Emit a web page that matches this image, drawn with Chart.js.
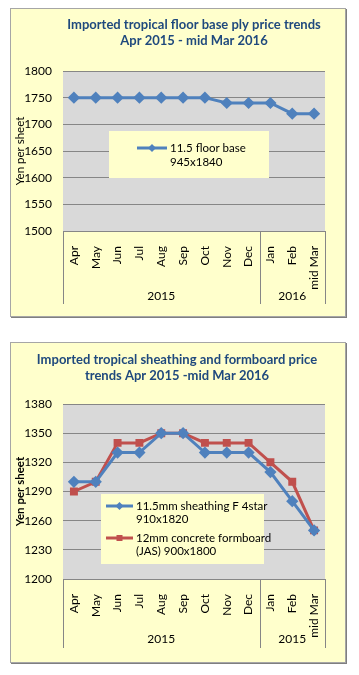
<!DOCTYPE html>
<html>
<head>
<meta charset="utf-8">
<script src="https://cdn.jsdelivr.net/npm/chart.js@4.4.1/dist/chart.umd.min.js"></script>
<style>
  body { margin: 0; background: #fff; font-family: Lato, "Open Sans", sans-serif; }
  .box { position: absolute; left: 10px; width: 334px; background: #ffffcc; border: 1px solid #a6a6a6; box-shadow: 1px 1px 0 #7f7f7f; }
  .box canvas { display: block; }
</style>
</head>
<body>
<div class="box" style="top:8px;height:307px"><canvas id="floor" width="334" height="307"></canvas></div>
<div class="box" style="top:342px;height:319px"><canvas id="sheathing" width="334" height="319"></canvas></div>
<script>
const months = ['Apr', 'May', 'Jun', 'Jul', 'Aug', 'Sep', 'Oct', 'Nov', 'Dec', 'Jan', 'Feb', 'mid Mar']
const floorYears = ['2015', '2016']
const sheathingYears = ['2015', '2015']
const yearSizes = [9, 3]

const floorBase = [1750, 1750, 1750, 1750, 1750, 1750, 1750, 1740, 1740, 1740, 1720, 1720]
const sheathing = [1300, 1300, 1330, 1330, 1350, 1350, 1330, 1330, 1330, 1310, 1280, 1250]
const formboard = [1290, 1300, 1340, 1340, 1350, 1350, 1340, 1340, 1340, 1320, 1300, 1250]

const blue = '#4f81bd'
const red = '#c0504d'
const grid = '#868686'
const fontName = 'Lato, "Open Sans", sans-serif'

// gray plot area, title, year row under the month labels, legend box inside the plot
const plotPlugin = {
  id: 'plotStuff',
  beforeDraw (chart) {
    const a = chart.chartArea
    const ctx = chart.ctx
    ctx.save()
    ctx.fillStyle = '#d9d9d9'
    ctx.fillRect(a.left, a.top, a.right - a.left, a.bottom - a.top)
    ctx.restore()
  },
  afterDraw (chart, args, opts) {
    const a = chart.chartArea
    const x = chart.scales.x
    const ctx = chart.ctx
    ctx.save()
    // title
    ctx.fillStyle = '#1f497d'
    ctx.font = 'bold 13px ' + fontName
    ctx.textAlign = 'center'
    ctx.textBaseline = 'middle'
    opts.title.forEach((line, i) => {
      ctx.fillText(line, opts.titleX, opts.titleY + i * 16)
    })
    // year groups
    ctx.strokeStyle = grid
    ctx.lineWidth = 1
    let start = 0
    const edges = [a.left]
    opts.years.forEach((yr, i) => {
      const end = start + yearSizes[i] - 1
      const right = end === months.length - 1 ? a.right : (x.getPixelForValue(end) + x.getPixelForValue(end + 1)) / 2
      edges.push(right)
      const left = edges[i]
      ctx.fillStyle = '#000'
      ctx.font = '12px ' + fontName
      ctx.fillText(yr, (left + right) / 2, opts.yearY)
      start = end + 1
    })
    edges.forEach(e => {
      const px = Math.round(e) + 0.5
      ctx.beginPath()
      ctx.moveTo(px, a.bottom)
      ctx.lineTo(px, opts.yearLineEnd)
      ctx.stroke()
    })
    // legend
    const lg = opts.legend
    ctx.fillStyle = '#ffffcc'
    ctx.fillRect(lg.x, lg.y, lg.w, lg.h)
    chart.data.datasets.forEach((ds, i) => {
      const cy = lg.firstY + i * lg.entryGap
      ctx.strokeStyle = ds.borderColor
      ctx.lineWidth = 3
      ctx.beginPath()
      ctx.moveTo(lg.sampleX, cy)
      ctx.lineTo(lg.sampleX + lg.sampleW, cy)
      ctx.stroke()
      ctx.fillStyle = ds.borderColor
      const mx = lg.sampleX + lg.sampleW / 2
      if (ds.pointStyle === 'rect') {
        ctx.fillRect(mx - 3, cy - 3, 6, 6)
      } else {
        ctx.beginPath()
        ctx.moveTo(mx, cy - 4)
        ctx.lineTo(mx + 4, cy)
        ctx.lineTo(mx, cy + 4)
        ctx.lineTo(mx - 4, cy)
        ctx.closePath()
        ctx.fill()
      }
      ctx.fillStyle = '#000'
      ctx.font = '11.5px ' + fontName
      ctx.textAlign = 'left'
      ds.label.forEach((line, j) => {
        ctx.fillText(line, lg.sampleX + lg.sampleW + 3, cy + j * lg.lineH)
      })
    })
    ctx.restore()
  }
}

function makeChart (id, cfg) {
  return new Chart(document.getElementById(id), {
    type: 'line',
    data: { labels: months, datasets: cfg.datasets },
    options: {
      responsive: false,
      animation: false,
      layout: { padding: { left: 0, right: 20, top: cfg.plotTop, bottom: 0 } },
      plugins: {
        legend: { display: false },
        tooltip: { enabled: false },
        title: { display: false },
        plotStuff: {
          title: cfg.title,
          titleX: cfg.titleX,
          titleY: cfg.titleY,
          years: cfg.years,
          yearY: cfg.yearY,
          yearLineEnd: cfg.yearLineEnd,
          legend: cfg.legend
        }
      },
      scales: {
        x: {
          offset: true,
          afterFit (s) { s.height = cfg.xHeight },
          grid: { display: false, offset: true },
          border: { display: true, color: grid },
          ticks: { minRotation: 90, maxRotation: 90, padding: 7, color: '#000', font: { family: fontName, size: 12 } }
        },
        y: {
          min: cfg.min,
          max: cfg.max,
          afterFit (s) { s.width = 52 },
          grid: { color: grid, drawTicks: false },
          border: { display: false },
          ticks: { stepSize: cfg.step, padding: 11, color: '#000', font: { family: fontName, size: 12 }, callback: v => String(v) },
          title: {
            display: true,
            text: 'Yen per sheet',
            color: '#000',
            padding: { top: 2, bottom: 0 },
            font: { family: fontName, size: 11.5, weight: cfg.yTitleWeight }
          }
        }
      }
    },
    plugins: [plotPlugin]
  })
}

makeChart('floor', {
  title: ['Imported tropical floor base ply price trends', 'Apr 2015 - mid Mar 2016'],
  titleX: 183,
  titleY: 16,
  plotTop: 62,
  min: 1500,
  max: 1800,
  step: 50,
  xHeight: 85,
  years: floorYears,
  yearY: 287,
  yearLineEnd: 295,
  yTitleWeight: 'normal',
  legend: { x: 98, y: 122, w: 160, h: 47, sampleX: 126, sampleW: 30, firstY: 139, entryGap: 32, lineH: 14 },
  datasets: [{
    label: ['11.5 floor base', '945x1840'],
    data: floorBase,
    borderColor: blue,
    backgroundColor: blue,
    borderWidth: 3,
    pointStyle: 'rectRot',
    pointRadius: 4,
    tension: 0
  }]
})

makeChart('sheathing', {
  title: ['Imported tropical sheathing and formboard price', 'trends Apr 2015 -mid Mar 2016'],
  titleX: 166,
  titleY: 17,
  plotTop: 61,
  min: 1200,
  max: 1380,
  step: 30,
  xHeight: 83,
  years: sheathingYears,
  yearY: 296,
  yearLineEnd: 305,
  yTitleWeight: 'bold',
  legend: { x: 90, y: 151, w: 163, h: 70, sampleX: 95, sampleW: 27, firstY: 163, entryGap: 32, lineH: 13 },
  datasets: [{
    label: ['11.5mm sheathing F 4star', '910x1820'],
    data: sheathing,
    borderColor: blue,
    backgroundColor: blue,
    borderWidth: 3,
    pointStyle: 'rectRot',
    pointRadius: 4,
    tension: 0
  }, {
    label: ['12mm concrete formboard', '(JAS) 900x1800'],
    data: formboard,
    borderColor: red,
    backgroundColor: red,
    borderWidth: 3,
    pointStyle: 'rect',
    pointRadius: 3.5,
    tension: 0
  }]
})
</script>
</body>
</html>
